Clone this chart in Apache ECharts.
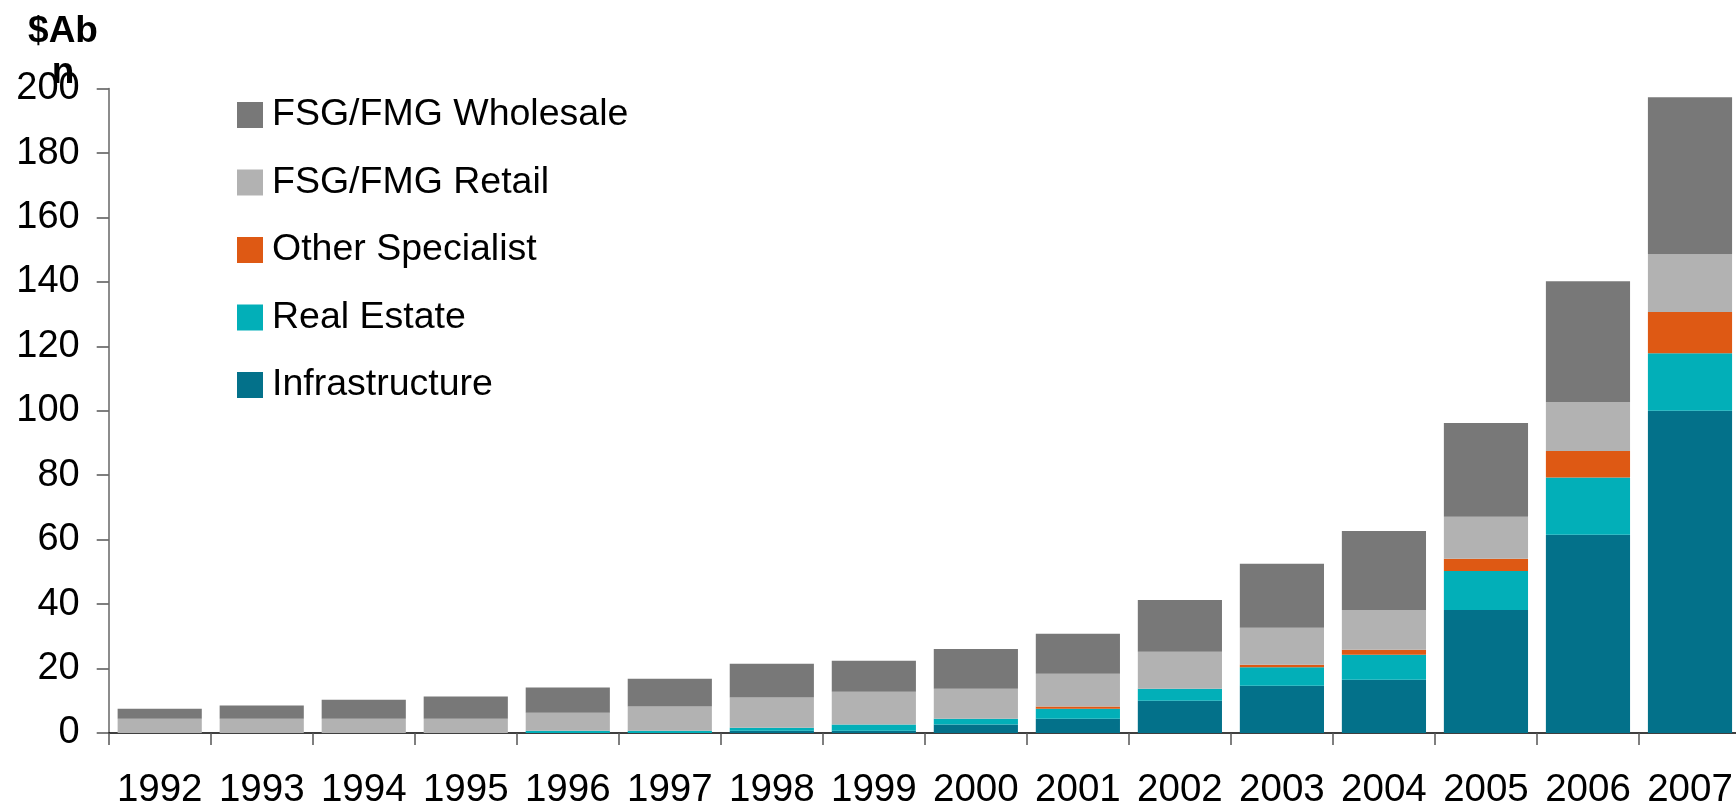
<!DOCTYPE html>
<html>
<head>
<meta charset="utf-8">
<script src="https://cdn.jsdelivr.net/npm/echarts@6/dist/echarts.min.js"></script>
<style>
  html, body { margin: 0; padding: 0; background: #fff; }
  #chart { width: 1736px; height: 807px; }
</style>
</head>
<body>
<div id="chart"></div>
<script>
// Funds under management by business line, $A billion
const years = ['1992','1993','1994','1995','1996','1997','1998','1999',
               '2000','2001','2002','2003','2004','2005','2006','2007'];
const infrastructure = [0, 0, 0, 0, 0, 0, 0.7, 0.7, 2.6, 4.4, 10.0, 14.7, 16.5, 38.2, 61.5, 100.0];
const realEstate     = [0, 0, 0, 0, 0.7, 0.7, 0.95, 1.9, 1.8, 3.1, 3.7, 5.7, 7.8, 12.1, 17.8, 17.9];
const otherSpecialist= [0, 0, 0, 0, 0, 0, 0, 0, 0, 0.7, 0, 0.8, 1.5, 3.8, 8.2, 12.8];
const fsgRetail      = [4.4, 4.4, 4.4, 4.4, 5.6, 7.5, 9.35, 10.2, 9.3, 10.2, 11.5, 11.5, 12.4, 13.0, 15.2, 17.9];
const fsgWholesale   = [3.1, 4.1, 5.9, 6.9, 7.8, 8.6, 10.5, 9.6, 12.4, 12.4, 16.1, 19.8, 24.5, 29.1, 37.5, 48.7];
const yTicks = { min: 0, max: 200, step: 20 };

const FONT = '"Liberation Sans", Arial, sans-serif';

const stackSeries = [
  { name: 'Infrastructure',     data: infrastructure,  color: '#03718A' },
  { name: 'Real Estate',        data: realEstate,      color: '#02AFB8' },
  { name: 'Other Specialist',   data: otherSpecialist, color: '#DE5914' },
  { name: 'FSG/FMG Retail',     data: fsgRetail,       color: '#B2B2B2' },
  { name: 'FSG/FMG Wholesale',  data: fsgWholesale,    color: '#787878' }
];

const chart = echarts.init(document.getElementById('chart'), null, { renderer: 'canvas' });

chart.setOption({
  animation: false,
  backgroundColor: '#ffffff',
  textStyle: { fontFamily: FONT },
  grid: { left: 108.7, right: -5, top: 88.6, bottom: 74, containLabel: false, outerBoundsMode: 'none' },
  graphic: [
    { type: 'text', x: 63, y: 32,
      style: { text: '$Ab', font: 'bold 37px ' + FONT, fill: '#000', align: 'center', verticalAlign: 'middle' } },
    { type: 'text', x: 63, y: 73,
      style: { text: 'n', font: 'bold 37px ' + FONT, fill: '#000', align: 'center', verticalAlign: 'middle' } }
  ],
  legend: {
    orient: 'vertical',
    left: 237,
    top: 95,
    itemWidth: 26,
    itemHeight: 26,
    itemGap: 27.5,
    icon: 'rect',
    padding: 0,
    selectedMode: false,
    data: ['FSG/FMG Wholesale', 'FSG/FMG Retail', 'Other Specialist', 'Real Estate', 'Infrastructure'],
    textStyle: { fontSize: 37.5, lineHeight: 40, color: '#000', fontFamily: FONT, padding: [0, 0, 0, 4] }
  },
  xAxis: {
    type: 'category',
    data: years,
    boundaryGap: true,
    axisLine: { show: true, lineStyle: { color: '#000', width: 1.5 } },
    axisTick: { show: true, alignWithLabel: false, length: 12, lineStyle: { color: '#555', width: 1.5 } },
    axisLabel: { fontSize: 38.5, color: '#000', margin: 38, fontFamily: FONT, interval: 0 },
    splitLine: { show: false }
  },
  yAxis: {
    type: 'value',
    min: yTicks.min,
    max: yTicks.max,
    interval: yTicks.step,
    axisLine: { show: true, lineStyle: { color: '#666', width: 1.5 } },
    axisTick: { show: true, length: 12, lineStyle: { color: '#555', width: 1.5 } },
    axisLabel: { fontSize: 38, color: '#000', margin: 29, fontFamily: FONT },
    splitLine: { show: false }
  },
  series: stackSeries.map(s => ({
    name: s.name,
    type: 'bar',
    stack: 'fum',
    data: s.data,
    barCategoryGap: '17.5%',
    itemStyle: { color: s.color },
    emphasis: { disabled: true }
  }))
});
</script>
</body>
</html>
